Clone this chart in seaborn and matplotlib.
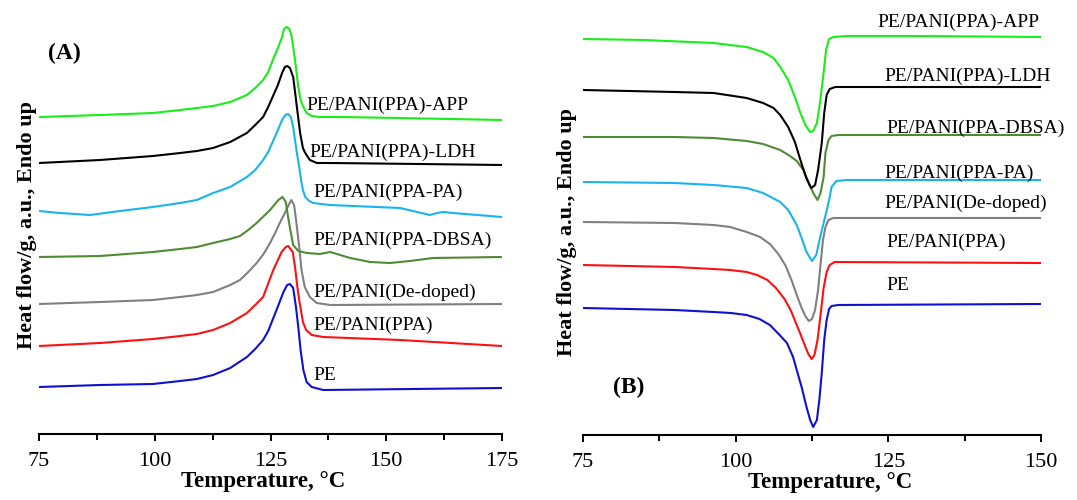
import matplotlib
matplotlib.use("Agg")
import matplotlib.pyplot as plt
import seaborn as sns
import pandas as pd
from matplotlib.ticker import MultipleLocator

# ---------------- data: panel (A) heating scans ----------------
a_pe_t = [75, 88.2, 99.6, 105.5, 109.1, 112.6, 116.3, 119.9, 121.7, 123.4, 124.5, 126.3, 127.8, 128.6, 129.2, 129.9, 130.5, 131.0, 131.5, 132.1, 132.8, 133.9, 136.4, 175]
a_pe_hf = [5.3, 5.5, 5.6, 5.9, 6.1, 6.5, 7.2, 8.3, 9.1, 10.0, 10.9, 13.0, 14.8, 15.5, 15.6, 15.2, 13.3, 11.3, 9.0, 7.0, 5.8, 5.3, 5.0, 5.2]

a_ppa_t = [75, 88.2, 99.6, 105.5, 109.1, 112.6, 116.3, 119.9, 121.7, 123.4, 125.6, 127.4, 128.3, 128.8, 129.8, 130.3, 130.8, 131.2, 131.6, 132.0, 132.7, 133.9, 136.4, 153.0, 175]
a_ppa_hf = [9.4, 9.7, 10.1, 10.4, 10.6, 11.0, 11.7, 12.7, 13.5, 14.3, 17.0, 18.8, 19.3, 19.4, 18.8, 17.3, 15.3, 14.0, 12.9, 11.8, 11.0, 10.5, 10.3, 10.0, 9.4]

a_dedoped_t = [75, 88.2, 99.6, 105.5, 109.1, 112.6, 116.3, 118.4, 120.2, 122.0, 123.5, 124.9, 126.0, 127.0, 128.0, 128.7, 129.5, 130.1, 130.6, 131.2, 131.7, 132.4, 133.5, 135.0, 137.9, 175]
a_dedoped_hf = [13.6, 13.8, 14.0, 14.3, 14.5, 14.8, 15.5, 16.0, 16.8, 17.7, 18.6, 19.7, 20.7, 21.7, 22.6, 23.3, 24.0, 23.5, 21.7, 19.3, 17.0, 15.3, 14.3, 13.7, 13.5, 13.6]

a_dbsa_t = [75, 88.2, 99.6, 105.5, 109.1, 112.6, 116.3, 118.4, 120.2, 122.0, 124.9, 126.7, 127.6, 128.3, 128.8, 129.4, 129.9, 131.0, 132.8, 135.7, 137.9, 142.2, 146.5, 150.8, 155.1, 160.1, 175]
a_dbsa_hf = [18.3, 18.4, 18.8, 19.1, 19.3, 19.7, 20.1, 20.4, 21.0, 21.7, 23.0, 24.0, 24.3, 23.8, 22.3, 20.7, 19.5, 18.9, 18.7, 18.6, 18.8, 18.2, 17.8, 17.7, 17.9, 18.2, 18.3]

a_pa_t = [75, 79.5, 86.0, 92.5, 99.6, 105.5, 109.1, 112.6, 116.3, 119.9, 121.7, 123.4, 124.5, 126.6, 127.5, 128.2, 128.8, 129.4, 129.9, 130.7, 131.2, 131.6, 132.0, 132.5, 133.4, 134.2, 137.9, 153.0, 159.4, 161.0, 162.3, 164.4, 175]
a_pa_hf = [22.9, 22.7, 22.5, 22.9, 23.3, 23.7, 24.0, 24.7, 25.3, 26.3, 27.0, 28.0, 28.8, 31.0, 32.0, 32.5, 32.6, 32.3, 31.3, 28.7, 27.3, 26.0, 25.0, 24.3, 23.9, 23.7, 23.5, 23.2, 22.5, 22.7, 22.8, 22.7, 22.3]

a_ldh_t = [75, 88.2, 99.6, 105.5, 109.1, 112.6, 116.3, 119.9, 121.7, 123.4, 124.5, 126.6, 127.5, 128.1, 128.6, 129.2, 129.9, 130.7, 131.4, 132.0, 132.5, 133.5, 135.0, 137.9, 157.3, 175]
a_ldh_hf = [27.7, 28.0, 28.4, 28.7, 28.9, 29.2, 29.8, 30.7, 31.5, 32.3, 33.3, 35.5, 36.7, 37.3, 37.4, 37.2, 36.3, 33.3, 30.7, 29.2, 28.7, 28.0, 27.7, 27.7, 27.6, 27.5]

a_app_t = [75, 88.2, 99.6, 105.5, 109.1, 112.6, 116.3, 119.9, 121.7, 123.4, 124.5, 125.5, 126.6, 127.5, 127.9, 128.5, 129.1, 129.6, 130.3, 131.0, 131.5, 132.1, 132.8, 133.9, 135.7, 140.0, 153.0, 163.8, 175]
a_app_hf = [32.3, 32.5, 32.7, 33.0, 33.2, 33.4, 33.8, 34.5, 35.2, 36.0, 36.8, 38.0, 39.2, 40.3, 41.1, 41.3, 41.1, 40.3, 38.0, 35.3, 34.0, 33.3, 32.7, 32.4, 32.3, 32.3, 32.2, 32.1, 32.0]

# ---------------- data: panel (B) cooling scans ----------------
b_pe_t = [75, 90, 96.4, 99.2, 101.8, 103.9, 105.6, 107.2, 108.4, 109.4, 110.0, 110.8, 111.6, 112.2, 112.7, 113.3, 113.7, 114.1, 114.5, 114.9, 115.3, 115.7, 116.8, 150]
b_pe_hf = [13.2, 13.0, 12.8, 12.7, 12.5, 12.1, 11.5, 10.5, 9.7, 8.3, 7.0, 5.3, 3.3, 2.0, 1.3, 2.0, 4.0, 6.7, 10.0, 12.0, 13.1, 13.4, 13.5, 13.6]

b_ppa_t = [75, 90, 96.4, 99.1, 101.8, 103.5, 105.2, 106.6, 108.0, 109.0, 109.8, 110.6, 111.3, 111.9, 112.45, 112.9, 113.4, 113.9, 114.4, 114.9, 115.4, 116.2, 150]
b_ppa_hf = [17.5, 17.3, 17.1, 17.0, 16.8, 16.5, 16.0, 15.2, 14.1, 13.0, 11.8, 10.6, 9.5, 8.6, 8.1, 8.5, 10.0, 12.5, 15.2, 16.8, 17.5, 17.8, 17.7]

b_dedoped_t = [75, 90, 96.4, 99.1, 101.8, 104.0, 105.6, 107.0, 108.2, 109.2, 110.0, 110.8, 111.5, 112.0, 112.5, 113.0, 113.5, 113.9, 114.3, 114.7, 115.2, 116.0, 150]
b_dedoped_hf = [21.8, 21.7, 21.5, 21.3, 20.8, 20.3, 19.6, 18.6, 17.4, 15.9, 14.5, 13.2, 12.3, 11.9, 12.1, 13.0, 15.0, 17.6, 20.0, 21.3, 22.0, 22.2, 22.2]

b_pa_t = [75, 90, 96.4, 101.8, 104.5, 107.3, 108.6, 110.0, 110.8, 111.6, 112.5, 113.2, 113.8, 114.4, 115.0, 115.4, 115.7, 116.5, 118.2, 150]
b_pa_hf = [25.8, 25.7, 25.5, 25.2, 24.7, 23.8, 23.0, 21.5, 20.2, 18.8, 17.9, 18.5, 20.2, 21.7, 23.2, 24.3, 25.3, 25.9, 26.0, 26.0]

b_dbsa_t = [75, 90, 96.4, 101.8, 104.5, 107.3, 108.9, 110.0, 111.1, 111.9, 112.7, 113.4, 113.9, 114.4, 114.7, 115.2, 115.7, 116.8, 150]
b_dbsa_hf = [30.3, 30.3, 30.2, 29.9, 29.6, 29.0, 28.4, 27.9, 27.0, 25.8, 24.7, 24.0, 24.7, 26.3, 28.7, 30.0, 30.4, 30.5, 30.5]

b_ldh_t = [75, 90, 96.4, 101.8, 104.5, 106.2, 107.3, 108.6, 109.7, 110.6, 111.5, 112.1, 112.4, 113.0, 113.5, 114.1, 114.5, 114.9, 115.4, 116.3, 150]
b_ldh_hf = [35.0, 34.8, 34.7, 34.2, 33.7, 33.2, 32.5, 31.3, 29.8, 28.0, 26.3, 25.5, 25.2, 25.5, 27.0, 29.7, 32.7, 34.5, 35.1, 35.3, 35.3]

b_app_t = [75, 85, 96.4, 101.8, 104.5, 106.2, 107.3, 108.6, 109.7, 110.6, 111.5, 112.2, 112.7, 113.3, 113.8, 114.4, 114.8, 115.3, 116.0, 118.2, 130, 150]
b_app_hf = [40.1, 40.0, 39.7, 39.3, 38.8, 38.2, 37.3, 36.0, 34.3, 32.7, 31.4, 30.8, 30.9, 31.7, 33.7, 36.7, 39.0, 40.1, 40.3, 40.4, 40.4, 40.3]

names = ["PE", "PE/PANI(PPA)", "PE/PANI(De-doped)", "PE/PANI(PPA-DBSA)",
         "PE/PANI(PPA-PA)", "PE/PANI(PPA)-LDH", "PE/PANI(PPA)-APP"]
colors = ["#1010D0", "#FF1010", "#808080", "#4F8A35", "#18B4F0", "#000000", "#18EE18"]

series_a = [(a_pe_t, a_pe_hf), (a_ppa_t, a_ppa_hf), (a_dedoped_t, a_dedoped_hf),
            (a_dbsa_t, a_dbsa_hf), (a_pa_t, a_pa_hf), (a_ldh_t, a_ldh_hf), (a_app_t, a_app_hf)]
series_b = [(b_pe_t, b_pe_hf), (b_ppa_t, b_ppa_hf), (b_dedoped_t, b_dedoped_hf),
            (b_dbsa_t, b_dbsa_hf), (b_pa_t, b_pa_hf), (b_ldh_t, b_ldh_hf), (b_app_t, b_app_hf)]

# label anchor positions (data coords) for each curve's name
lab_a = [(134.2, 6.5), (134.2, 11.5), (134.2, 14.8), (134.2, 20.0), (134.2, 24.8), (133.5, 28.8), (132.7, 33.5)]
lab_b = [(124.7, 15.5), (124.7, 19.8), (124.3, 23.7), (124.7, 31.2), (124.3, 26.7), (124.3, 36.4), (123.2, 41.8)]

# ---------------- styling ----------------
sns.set_theme(style="white")
plt.rcParams["font.family"] = ["Liberation Serif", "DejaVu Serif"]

fig = plt.figure(figsize=(10.77, 5.0), dpi=100)
axA = fig.add_axes([39 / 1077, 66 / 500, 463 / 1077, 424 / 500])
axB = fig.add_axes([583 / 1077, 65 / 500, 458 / 1077, 425 / 500])


def draw(ax, series, labels_pos):
    for (t, hf), name, c, (lx, ly) in zip(series, names, colors, labels_pos):
        df = pd.DataFrame({"Temperature": t, "HeatFlow": hf})
        sns.lineplot(data=df, x="Temperature", y="HeatFlow", color=c, linewidth=1.5,
                     sort=False, estimator=None, ax=ax, legend=False)
        ax.text(lx, ly, name, fontsize=14, color="black", ha="left", va="center")


draw(axA, series_a, lab_a)
draw(axB, series_b, lab_b)

axA.set_xlim(75, 175)
axA.set_ylim(0.6, 43)
axB.set_xlim(75, 150)
axB.set_ylim(0.5, 43)

for ax in (axA, axB):
    ax.set_facecolor("none")
    ax.grid(False)
    for s in ("left", "top", "right"):
        ax.spines[s].set_visible(False)
    ax.spines["bottom"].set_color("black")
    ax.spines["bottom"].set_linewidth(1.5)
    ax.set_yticks([])
    ax.xaxis.set_major_locator(MultipleLocator(25))
    ax.xaxis.set_minor_locator(MultipleLocator(12.5))
    ax.tick_params(axis="x", which="major", bottom=True, direction="out", length=5,
                   width=1.4, color="black", labelsize=16, labelcolor="black", pad=8)
    ax.tick_params(axis="x", which="minor", bottom=True, direction="out", length=4,
                   width=1.4, color="black")
    ax.set_xlabel("Temperature, °C", fontsize=16.5, fontweight="bold", color="black")
    ax.set_ylabel("Heat flow/g, a.u., Endo up", fontsize=16, fontweight="bold", color="black")

axA.xaxis.set_label_coords(0.484, -0.088)
axA.yaxis.set_label_coords(-0.004, 0.493)
axB.xaxis.set_label_coords(0.539, -0.088)
axB.yaxis.set_label_coords(-0.013, 0.478)

axA.text(76.9, 38.7, "(A)", fontsize=17, fontweight="bold", color="black", ha="left", va="center")
axB.text(79.9, 5.3, "(B)", fontsize=17, fontweight="bold", color="black", ha="left", va="center")

fig.savefig("out.png", dpi=100, facecolor="white")
